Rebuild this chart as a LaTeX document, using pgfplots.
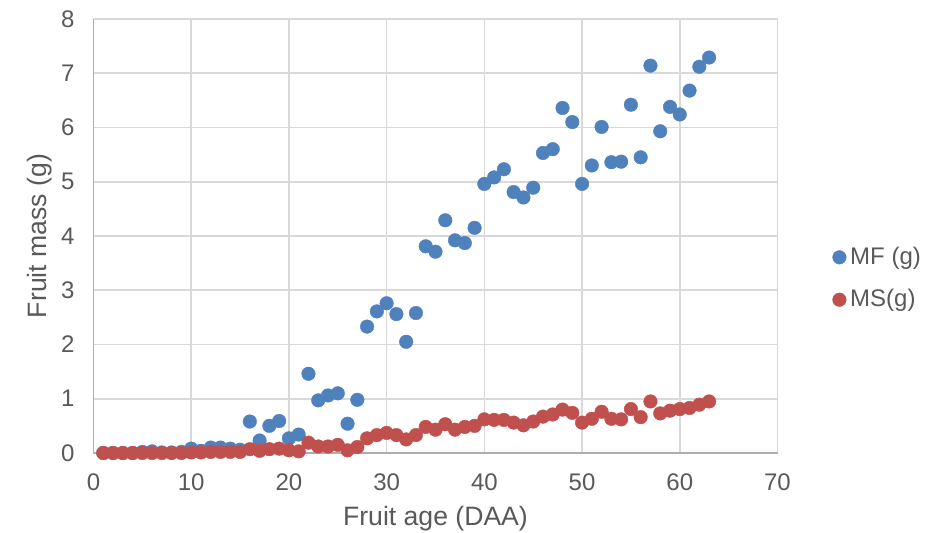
\documentclass[border=0pt]{standalone}
\usepackage{pgfplots}
\pgfplotsset{compat=1.18}
\usepackage{pgfplotstable}
\usepackage{fontspec}
\setmainfont{Liberation Sans}
\definecolor{mfblue}{HTML}{4F81BD}
\definecolor{msred}{HTML}{C0504D}
\definecolor{gridc}{HTML}{D9D9D9}
\definecolor{txt}{HTML}{595959}

\pgfplotstableread{
x y
1 0
2 0
3 0
4 0
5 0.02
6 0.03
7 0.01
8 0.01
9 0.02
10 0.08
11 0.04
12 0.1
13 0.1
14 0.08
15 0.06
16 0.58
17 0.23
18 0.5
19 0.59
20 0.27
21 0.34
22 1.46
23 0.97
24 1.06
25 1.10
26 0.54
27 0.98
28 2.33
29 2.61
30 2.76
31 2.56
32 2.05
33 2.58
34 3.81
35 3.71
36 4.29
37 3.92
38 3.87
39 4.15
40 4.96
41 5.08
42 5.23
43 4.81
44 4.71
45 4.89
46 5.53
47 5.60
48 6.36
49 6.10
50 4.96
51 5.30
52 6.01
53 5.36
54 5.37
55 6.42
56 5.45
57 7.14
58 5.93
59 6.38
60 6.24
61 6.68
62 7.12
63 7.29
}\mf

\pgfplotstableread{
x y
1 0
2 0
3 0
4 0
5 0
6 0
7 0
8 0
9 0
10 0.01
11 0.01
12 0.02
13 0.02
14 0.02
15 0.02
16 0.07
17 0.04
18 0.07
19 0.08
20 0.05
21 0.03
22 0.19
23 0.12
24 0.12
25 0.15
26 0.05
27 0.11
28 0.27
29 0.33
30 0.37
31 0.33
32 0.25
33 0.33
34 0.48
35 0.43
36 0.53
37 0.43
38 0.48
39 0.50
40 0.62
41 0.61
42 0.61
43 0.56
44 0.51
45 0.58
46 0.67
47 0.71
48 0.80
49 0.74
50 0.56
51 0.63
52 0.76
53 0.63
54 0.62
55 0.81
56 0.66
57 0.95
58 0.73
59 0.78
60 0.81
61 0.83
62 0.89
63 0.95
}\ms

\begin{document}
\begin{tikzpicture}
\useasboundingbox (-46.75pt,-40pt) rectangle (425.25pt,226.5pt);
\begin{axis}[
  at={(0,0)}, anchor=south west,
  scale only axis, width=342pt, height=217pt,
  xmin=0, xmax=70, ymin=0, ymax=8,
  xtick={0,10,...,70}, ytick={0,1,...,8},
  axis lines=left,
  axis line style={draw=gridc!80!black, line width=0.8pt, -},
  major tick length=0pt,
  grid=major,
  major grid style={draw=gridc, line width=0.8pt},
  clip=false,
  /pgf/number format/assume math mode=true,
  tick label style={font=\fontsize{12}{14}\selectfont, text=txt},
  xticklabel style={yshift=-7pt},
  yticklabel style={xshift=-6pt},
  xlabel={Fruit age (DAA)},
  ylabel={Fruit mass (g)},
  label style={font=\fontsize{13.3}{15}\selectfont, text=txt},
  xlabel style={at={(axis description cs:0.5,0)}, anchor=center, yshift=-33pt},
  ylabel style={at={(axis description cs:0,0.5)}, anchor=center, yshift=26.75pt},
  legend style={draw=none, fill=none, at={(1.08,0.402)}, anchor=west,
    font=\fontsize{12}{14}\selectfont, text=txt, row sep=7pt, inner sep=0pt,
    /tikz/every even column/.append style={column sep=0pt}},
  legend cell align=left,
  legend image code/.code={\draw[#1] plot coordinates {(0.12cm,0cm)};},
]
\addplot[only marks, mark=*, mark size=3.4pt, mark options={draw=mfblue, fill=mfblue, line width=0.2pt}] table[x=x,y=y] {\mf};
\addlegendentry{MF (g)}
\addplot[only marks, mark=*, mark size=3.4pt, mark options={draw=msred, fill=msred, line width=0.2pt}] table[x=x,y=y] {\ms};
\addlegendentry{MS(g)}
\end{axis}
\end{tikzpicture}
\end{document}
